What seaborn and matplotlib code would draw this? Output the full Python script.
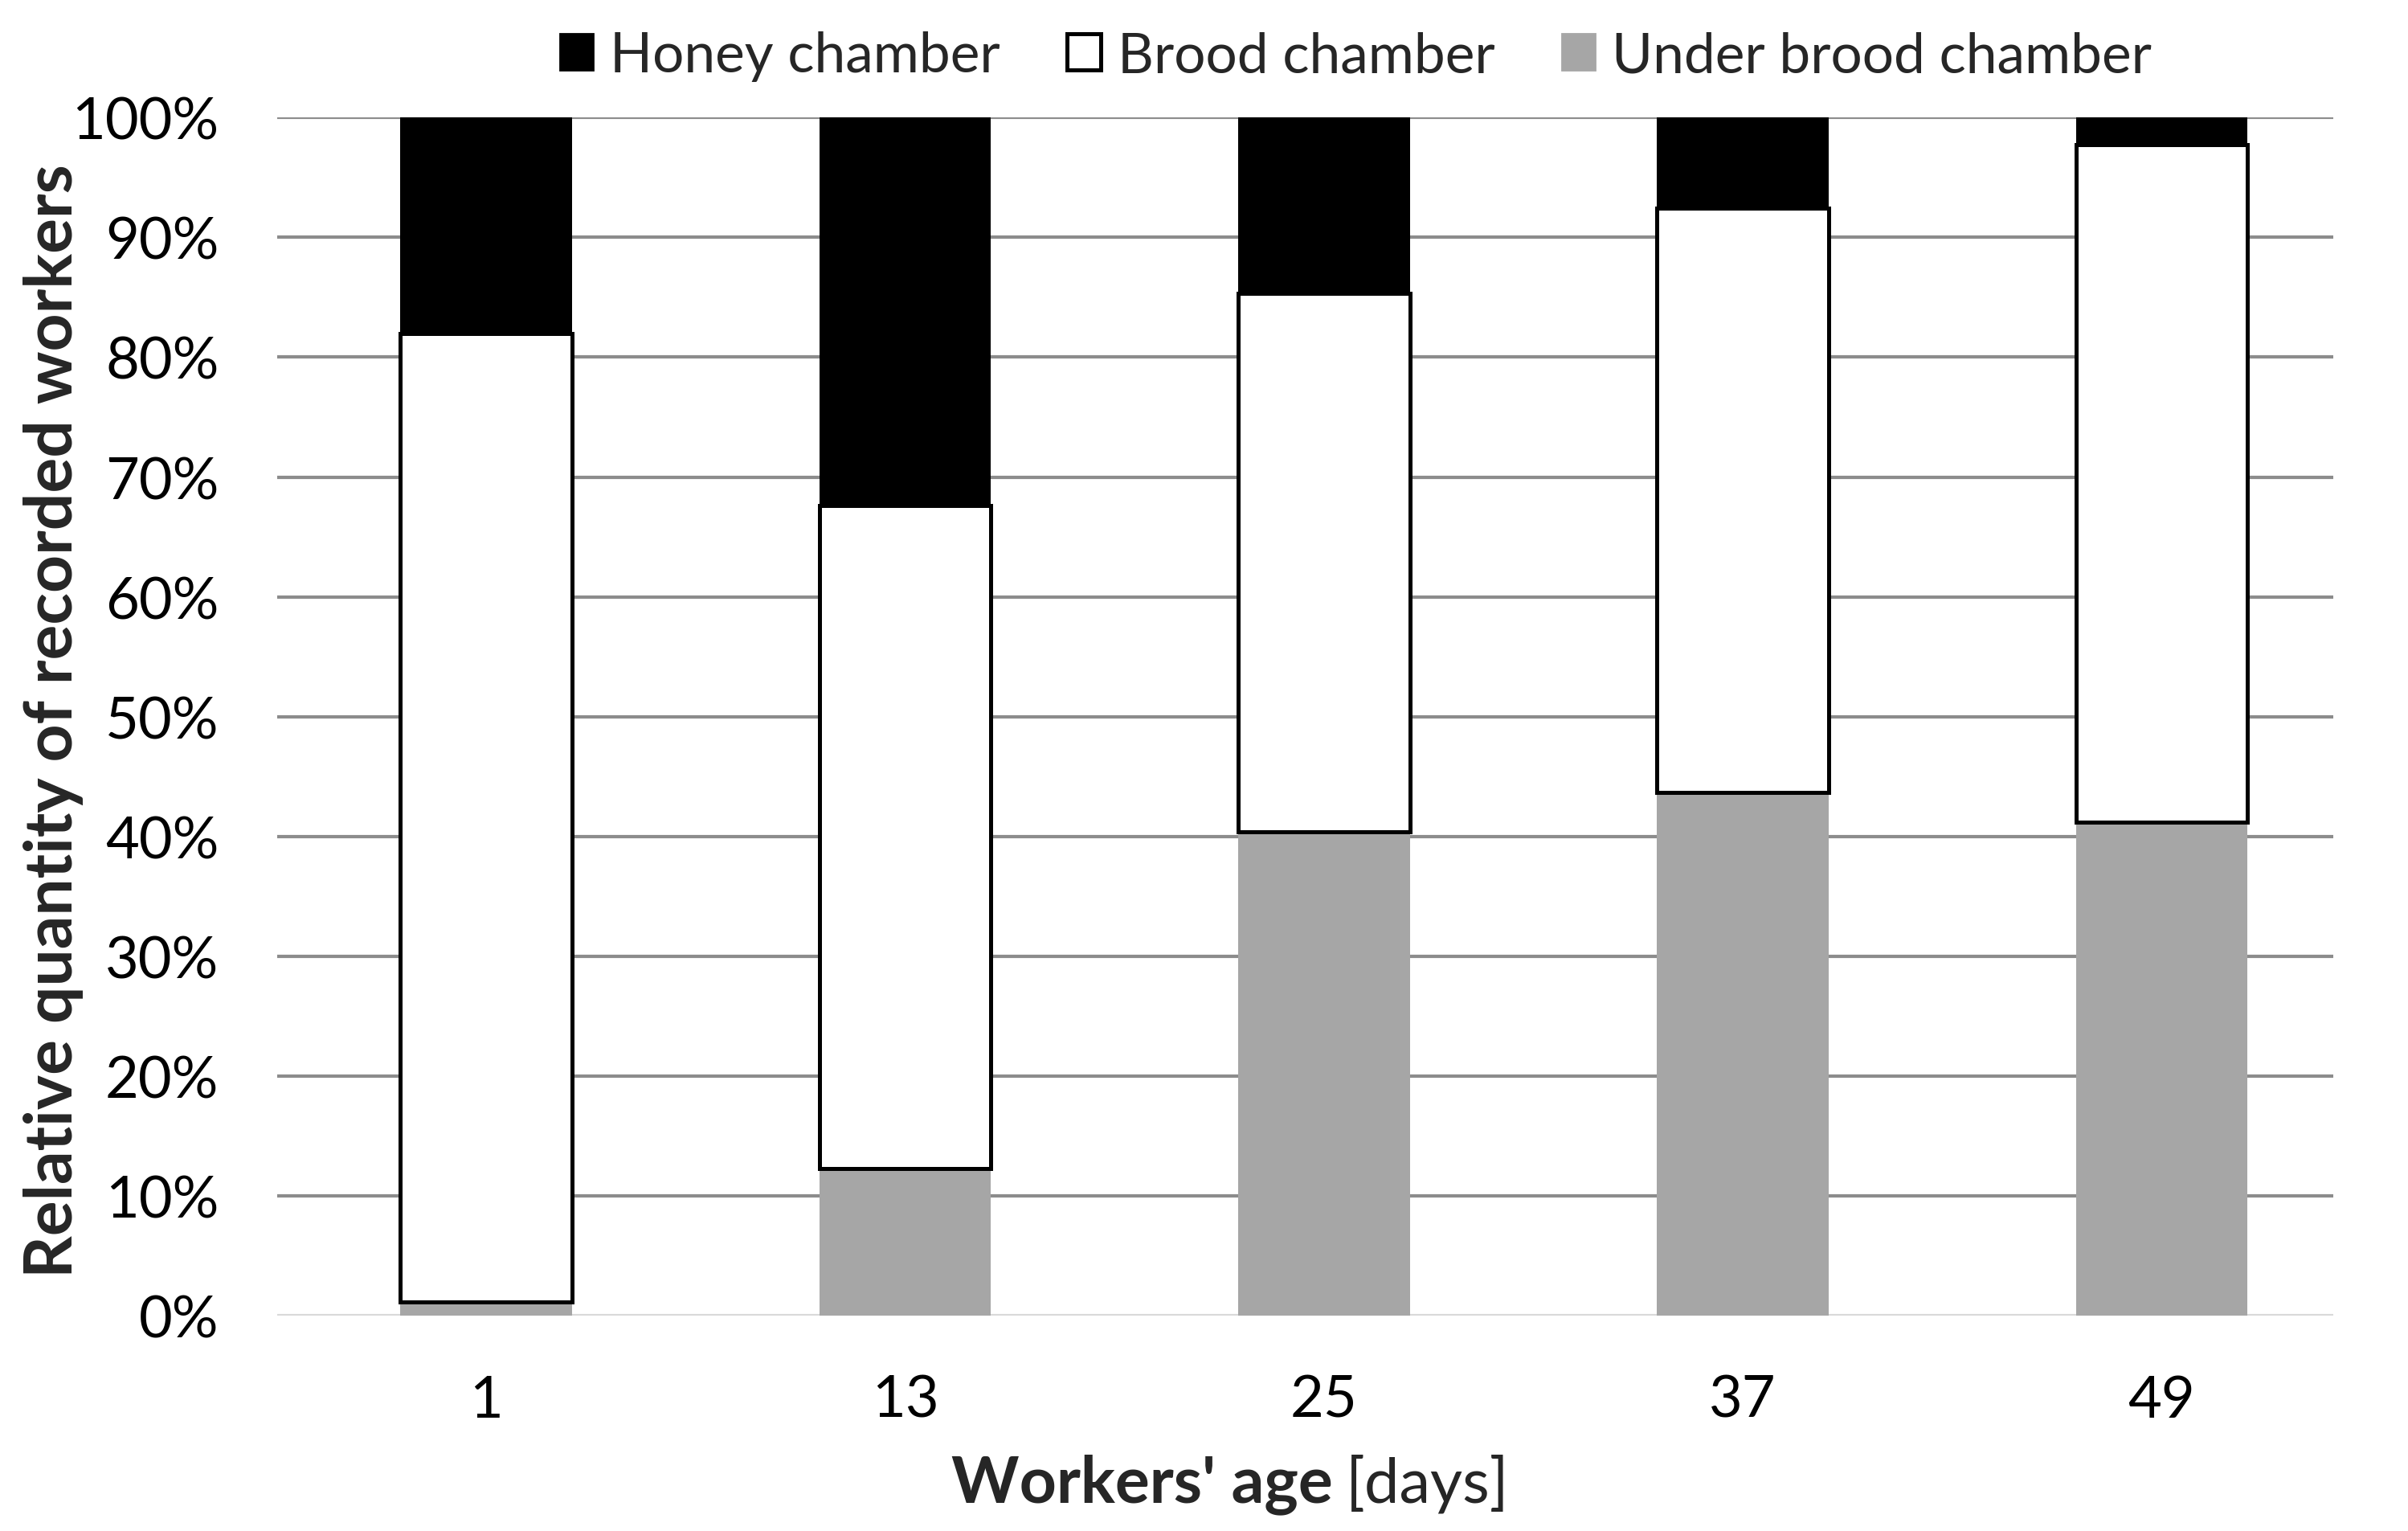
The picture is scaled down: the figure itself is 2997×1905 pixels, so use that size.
import pandas as pd
import matplotlib.pyplot as plt
import seaborn as sns
from matplotlib.patches import Patch
from matplotlib.offsetbox import TextArea, HPacker, AnchoredOffsetbox

# ==============================
# Data (percent of recorded workers)
# ==============================
ages = ["1", "13", "25", "37", "49"]
under_brood = [1.2, 12.3, 40.4, 43.7, 41.2]
brood = [80.8, 55.3, 44.9, 48.7, 56.5]
honey = [18.0, 32.4, 14.7, 7.6, 2.3]

df = pd.DataFrame({
    "age": ages,
    "under": under_brood,
    "brood": brood,
    "honey": honey,
})
df["brood_bottom"] = df["under"]
df["honey_bottom"] = df["under"] + df["brood"]

sns.set_style("white")
plt.rcParams["font.family"] = ["Lato", "DejaVu Sans"]

fig = plt.figure(figsize=(14.985, 9.53), dpi=200)
ax = fig.add_axes([0.115, 0.1404, 0.854, 0.7824])

bw = 0.41
sns.barplot(data=df, x="age", y="under", order=ages, color="#a6a6a6",
            width=bw, linewidth=0, saturation=1, ax=ax, zorder=3)
sns.barplot(data=df, x="age", y="brood", bottom=df["brood_bottom"].values,
            order=ages, color="white", edgecolor="black", linewidth=1.8,
            width=bw, saturation=1, ax=ax, zorder=3)
sns.barplot(data=df, x="age", y="honey", bottom=df["honey_bottom"].values,
            order=ages, color="black", linewidth=0, width=bw, saturation=1,
            ax=ax, zorder=3)

ax.set_ylim(0, 100)
ax.set_xlim(-0.5, 4.41)
ax.set_yticks(range(0, 101, 10))
ax.set_yticklabels([f"{v}%" for v in range(0, 101, 10)])
ax.tick_params(axis="both", labelsize=26, length=0, colors="black")
ax.tick_params(axis="y", pad=26)
ax.tick_params(axis="x", pad=26)

for v in range(10, 101, 10):
    ax.axhline(v, color="#8c8c8c", linewidth=1.5, zorder=1)
ax.axhline(0, color="#d9d9d9", linewidth=1.5, zorder=1)
for s in ax.spines.values():
    s.set_visible(False)

ax.set_xlabel("")
ax.set_ylabel("Relative quantity of recorded workers", fontsize=29.5,
              fontweight="bold")
ax.yaxis.set_label_coords(-0.094, 0.497)

# x label: bold part + regular part
xl = HPacker(children=[
    TextArea("Workers' age", textprops=dict(fontsize=29, fontweight="bold")),
    TextArea("[days]", textprops=dict(fontsize=28)),
], align="baseline", pad=0, sep=6)
box = AnchoredOffsetbox(loc="center", child=xl, frameon=False,
                        bbox_to_anchor=(0.511, 0.031),
                        bbox_transform=fig.transFigure, borderpad=0, pad=0)
fig.add_artist(box)

handles = [
    Patch(facecolor="black", edgecolor="black", label="Honey chamber"),
    Patch(facecolor="white", edgecolor="black", linewidth=1.8, label="Brood chamber"),
    Patch(facecolor="#a6a6a6", edgecolor="#a6a6a6", label="Under brood chamber"),
]
fig.legend(handles=handles, loc="center", bbox_to_anchor=(0.563, 0.963),
           ncol=3, frameon=False, fontsize=25, handlelength=0.6,
           handleheight=0.6, handletextpad=0.3, columnspacing=1.2)

plt.savefig("out.png", dpi=200)
plt.close()
